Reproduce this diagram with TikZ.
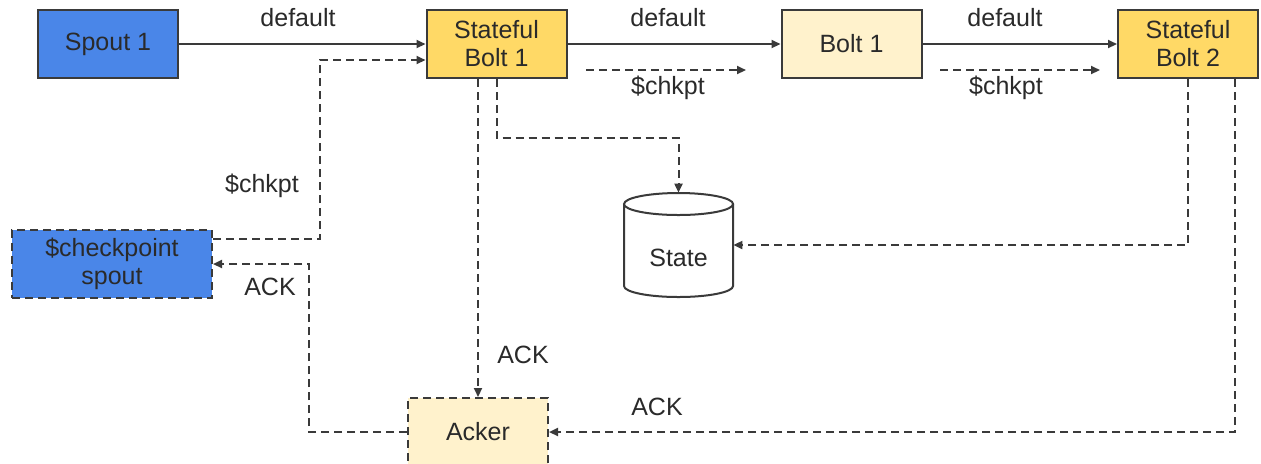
\documentclass[tikz,border=0pt]{standalone}
\usepackage{fontspec}
\setmainfont{Liberation Sans}
\usetikzlibrary{arrows.meta,calc}
\definecolor{spoutblue}{HTML}{4A86E8}
\definecolor{sbyellow}{HTML}{FFD966}
\definecolor{lightyellow}{HTML}{FFF2CC}
\definecolor{edge}{HTML}{3A3A3A}
\definecolor{txt}{HTML}{2A2A2A}
\tikzset{
  box/.style={draw=edge, line width=1pt, minimum width=70pt, minimum height=34pt, inner sep=0pt, align=center, text=txt, font=\fontsize{12.5}{14}\selectfont},
  dbox/.style={box, dash pattern=on 4pt off 2.5pt},
  conn/.style={draw=edge, line width=1pt, -{Triangle[length=4.5pt,width=4pt]}},
  dconn/.style={conn, dash pattern=on 4pt off 2.5pt},
  lbl/.style={text=txt, font=\fontsize{12.5}{14}\selectfont, inner sep=0pt}
}
\begin{document}
\begin{tikzpicture}[x=0.5pt,y=-0.5pt]
\useasboundingbox (0,0) rectangle (1261,463);
\fill[white] (0,0) rectangle (1261,463);
% nodes
\node[box, fill=spoutblue] (sp) at (108,44) {Spout 1};
\node[box, fill=sbyellow] (sb1) at (496.5,44) {Stateful\\Bolt 1};
\node[box, fill=lightyellow] (b1) at (851.5,44) {Bolt 1};
\node[box, fill=sbyellow] (sb2) at (1188,44) {Stateful\\Bolt 2};
\node[dbox, fill=spoutblue, minimum width=100pt] (cps) at (112,264) {\$checkpoint\\spout};
\node[dbox, fill=lightyellow, minimum height=34pt] (ack) at (478,432) {Acker};
% cylinder
\draw[edge, line width=1pt, fill=white] (624,204) -- (624,286) arc[start angle=180, end angle=360, x radius=54.5, y radius=-11] -- (733,204);
\draw[edge, line width=1pt, fill=white] (678.5,204) ellipse[x radius=54.5, y radius=11];
\node[minimum width=54.5pt, minimum height=52pt, inner sep=0pt, lbl] (st) at (678.5,245) {};
\node[lbl] (stlabel) at (678.5,258) {State};
% coordinates for free dashed arrows
\coordinate (ca1) at (586,70);
\coordinate (ca2) at (746,70);
\coordinate (cb1) at (940,70);
\coordinate (cb2) at (1100,70);
% solid connectors
\draw[conn] (sp.east) -- (sb1.west);
\draw[conn] (sb1.east) -- (b1.west);
\draw[conn] (b1.east) -- (sb2.west);
% dashed connectors
\draw[dconn] (ca1) -- (ca2);
\draw[dconn] (cb1) -- (cb2);
\draw[dconn] ([yshift=-5pt]cps.north east) -- ++(107,0) |- ([yshift=-8pt]sb1.west);
\draw[dconn] (ack.west) -- ++(-98,0) |- (cps.east);
\draw[dconn] (ack.north |- sb1.south) -- (ack.north);
\draw[dconn] (sb1.south) -- ++(0,59) -| (st.north);
\draw[dconn] (sb2.south) |- (st.east);
\draw[dconn] ([xshift=23.5pt]sb2.south) |- (ack.east);
% labels
\node[lbl] (l1) at (298,18) {default};
\node[lbl] (l2) at (668,18) {default};
\node[lbl] (l3) at (1005,18) {default};
\node[lbl] (l4) at (668,88) {\$chkpt};
\node[lbl] (l5) at (1006,88) {\$chkpt};
\node[lbl] (l6) at (262,186) {\$chkpt};
\node[lbl] (l7) at (270,287) {ACK};
\node[lbl] (l8) at (523,355) {ACK};
\node[lbl] (l9) at (657,407) {ACK};
\end{tikzpicture}
\end{document}
